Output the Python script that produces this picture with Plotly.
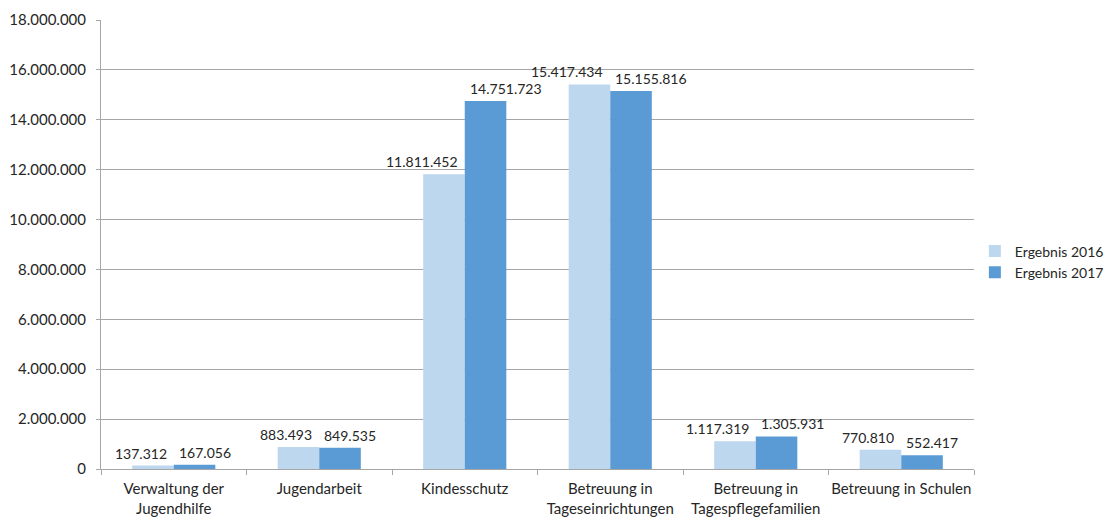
import plotly.graph_objects as go

categories = ["Verwaltung der<br>Jugendhilfe", "Jugendarbeit", "Kindesschutz",
              "Betreuung in<br>Tageseinrichtungen", "Betreuung in<br>Tagespflegefamilien",
              "Betreuung in Schulen"]
values_2016 = [137312, 883493, 11811452, 15417434, 1117319, 770810]
values_2017 = [167056, 849535, 14751723, 15155816, 1305931, 552417]
series_names = ["Ergebnis 2016", "Ergebnis 2017"]
y_ticks = [0, 2000000, 4000000, 6000000, 8000000, 10000000, 12000000, 14000000, 16000000, 18000000]

FONT = "Lato"
TXT = "#262626"
GRID = "#A6A6A6"


def fmt(v):
    return f"{v:,d}".replace(",", ".")


fig = go.Figure()
for name, vals, col in [(series_names[0], values_2016, "#BDD7EE"),
                        (series_names[1], values_2017, "#5B9BD5")]:
    fig.add_trace(go.Bar(
        x=categories, y=vals, name=name,
        marker=dict(color=col, line=dict(width=0)),
        hoverinfo="x+y+name",
    ))

annotations = []
for vals, anchor, shift in [(values_2016, "right", -5), (values_2017, "left", 3)]:
    for c, v in zip(categories, vals):
        annotations.append(dict(
            x=c, y=v, xref="x", yref="y", text=fmt(v), showarrow=False,
            xanchor=anchor, yanchor="bottom", xshift=shift, yshift=2,
            font=dict(family=FONT, size=14, color=TXT),
        ))

fig.update_layout(
    width=1111, height=517,
    margin=dict(l=101, r=137, t=20, b=48, autoexpand=False),
    paper_bgcolor="white", plot_bgcolor="white",
    barmode="group", bargap=0.4286, bargroupgap=0,
    separators=",.",
    font=dict(family=FONT, size=15, color=TXT),
    showlegend=True,
    legend=dict(x=1.001, y=0.461, xanchor="left", yanchor="middle",
                font=dict(family=FONT, size=14, color=TXT),
                itemwidth=30, tracegroupgap=0, bgcolor="rgba(0,0,0,0)"),
    annotations=annotations,
)
fig.update_xaxes(
    showline=True, linecolor=GRID, linewidth=1,
    ticks="outside", tickson="boundaries", ticklen=5, tickcolor=GRID,
    tickangle=0, automargin=False, ticklabelstandoff=6,
    tickfont=dict(family=FONT, size=15, color=TXT),
    showgrid=False,
)
fig.update_yaxes(
    range=[0, 18000000], tickvals=y_ticks, tickformat=",d",
    showline=True, linecolor=GRID, linewidth=1,
    ticks="outside", ticklen=4, tickcolor=GRID,
    ticklabelstandoff=7, automargin=False,
    showgrid=True, gridcolor=GRID, gridwidth=1,
    zeroline=False,
    tickfont=dict(family=FONT, size=15, color=TXT),
)

fig.write_html(
    "out.html",
    config={"displayModeBar": False},
    post_script="document.body.style.margin='0';document.body.style.overflow='hidden';",
)
